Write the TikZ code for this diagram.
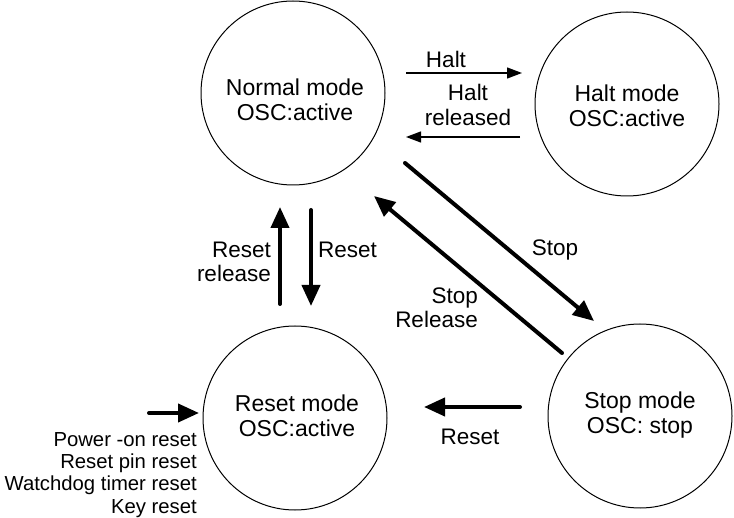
\documentclass[tikz,border=0pt]{standalone}
\usepackage{fontspec}
\setmainfont{Liberation Sans}
\usetikzlibrary{arrows.meta}
\begin{document}
\begin{tikzpicture}[x=1pt,y=-1pt,
  state/.style={draw, circle, line width=1pt, minimum size=184pt, inner sep=0pt},
  stxt/.style={align=center, font=\fontsize{23}{25.5}\selectfont, inner sep=0pt},
  lbl/.style={font=\fontsize{22.5}{24.5}\selectfont, inner sep=0pt},
  small/.style={font=\fontsize{20.3}{22.2}\selectfont, inner sep=0pt, align=right},
  thinarr/.style={line width=1.3pt, -{Triangle[length=15pt,width=11pt]}},
  bigarr/.style={line width=4pt, line cap=round, -{Triangle[length=21pt,width=18pt]}},
]
\useasboundingbox (0,0) rectangle (734,518);

% states
\node[state] (normal) at (293,93) {};
\node[stxt] (normaltxt) at (295,100) {Normal mode\\OSC:active};
\node[state] (halt) at (627,104) {};
\node[stxt] (halttxt) at (627,106) {Halt mode\\OSC:active};
\node[state] (reset) at (295,418) {};
\node[stxt] (resettxt) at (297,416) {Reset mode\\OSC:active};
\node[state] (stop) at (640,416) {};
\node[stxt] (stoptxt) at (640,415) {Stop mode\\OSC: stop};

% Halt / Halt released
\coordinate (h1) at (406,73); \coordinate (h2) at (522,73);
\draw[thinarr] (h1) -- (h2);
\node[lbl] (haltlbl) at (446,59) {Halt};
\coordinate (hr1) at (520,137); \coordinate (hr2) at (406,137);
\draw[thinarr] (hr1) -- (hr2);
\node[lbl, align=center] (hrlbl) at (468,105) {Halt\\released};

% Reset release / Reset (vertical)
\coordinate (rr1) at (280,304); \coordinate (rr2) at (280,207);
\draw[bigarr] (rr1) -- (rr2);
\node[lbl, align=right, anchor=east] (rrlbl) at (271,262) {Reset\\release};
\coordinate (rd1) at (311,210); \coordinate (rd2) at (311,306);
\draw[bigarr] (rd1) -- (rd2);
\node[lbl, anchor=west] (rdlbl) at (318,250) {Reset};

% Stop / Stop Release
\coordinate (s1) at (405,163); \coordinate (s2) at (594,321);
\draw[bigarr] (s1) -- (s2);
\node[lbl] (stoplbl) at (555,250) {Stop};
\coordinate (sr1) at (562,353); \coordinate (sr2) at (374,196);
\draw[bigarr] (sr1) -- (sr2);
\node[lbl, align=right, anchor=east] (srlbl) at (478,308) {Stop\\Release};

% Reset from stop
\coordinate (b1) at (520,407); \coordinate (b2) at (424,407);
\draw[bigarr] (b1) -- (b2);
\node[lbl] (blbl) at (470,437) {Reset};

% external resets
\coordinate (p1) at (149,413); \coordinate (p2) at (199,413);
\draw[bigarr] (p1) -- (p2);
\node[small, anchor=east] (plist) at (197,475) {Power -on reset\\Reset pin reset\\Watchdog timer reset\\Key reset};
\end{tikzpicture}
\end{document}
